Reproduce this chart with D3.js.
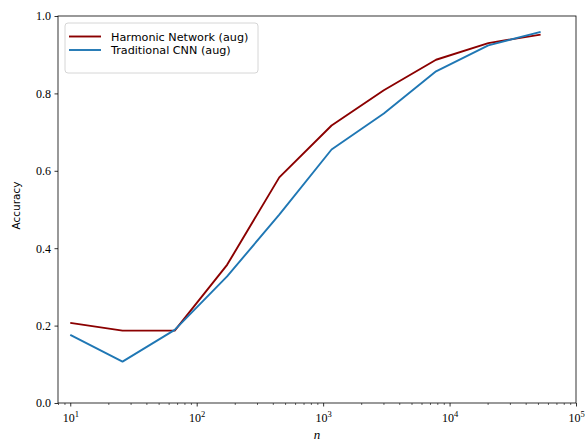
<!doctype html>
<html lang="en">
<head>
<meta charset="utf-8">
<script src="https://cdn.jsdelivr.net/npm/d3@7/dist/d3.min.js"></script>
<style>
  body { margin: 0; background: #fff; }
  .tick text { font-family: "Liberation Serif", serif; font-size: 12px; fill: #000; }
  .legend text { font-family: "DejaVu Sans", sans-serif; font-size: 11.2px; }
</style>
</head>
<body>
<div id="chart"></div>
<script>
// training set sizes (log spaced)
var nValues = [10, 25.9, 67, 174, 450, 1166, 3020, 7820, 20250, 52500];
var harmonic = [0.207, 0.187, 0.187, 0.357, 0.583, 0.717, 0.808, 0.887, 0.930, 0.952];
var traditional = [0.176, 0.107, 0.189, 0.327, 0.487, 0.655, 0.748, 0.857, 0.924, 0.959];
var seriesNames = ["Harmonic Network (aug)", "Traditional CNN (aug)"];
var seriesColors = ["#8b0000", "#1f77b4"];
var yTicks = [0, 0.2, 0.4, 0.6, 0.8, 1.0];
var xMajor = [10, 100, 1000, 10000, 100000];
var supers = {1: "1", 2: "2", 3: "3", 4: "4", 5: "5"};

var W = 587, H = 442;
var margin = {top: 16, right: 11, bottom: 39, left: 58};
var width = W - margin.left - margin.right,
    height = H - margin.top - margin.bottom;

var svg = d3.select("#chart").append("svg")
    .attr("width", W).attr("height", H)
  .append("g")
    .attr("transform", "translate(" + margin.left + "," + margin.top + ")");

var x = d3.scaleLog().domain([8, 100000]).range([0, width]);
var y = d3.scaleLinear().domain([0, 1]).range([height, 0]);

// minor ticks for log axis
var minor = [];
for (var e = 0; e < 5; e++) {
  for (var m = 2; m <= 9; m++) {
    var v = m * Math.pow(10, e);
    if (v >= 8 && v <= 100000) minor.push(v);
  }
}

var xAxisMinor = svg.append("g")
    .attr("transform", "translate(0," + height + ")")
    .call(d3.axisBottom(x).tickValues(minor).tickSize(2).tickFormat(""));
xAxisMinor.select(".domain").remove();
xAxisMinor.selectAll("line").attr("stroke-width", 0.6);

var xAxis = svg.append("g")
    .attr("transform", "translate(0," + height + ")")
    .call(d3.axisBottom(x).tickValues(xMajor).tickSize(3.5).tickPadding(4).tickFormat(""));
xAxis.select(".domain").remove();
xAxis.selectAll("line").attr("stroke-width", 0.8);
xAxis.selectAll(".tick").append("text")
    .attr("y", 19)
    .attr("text-anchor", "middle")
    .each(function(d) {
      var t = d3.select(this);
      var p = Math.round(Math.log10(d));
      t.append("tspan").text("10");
      t.append("tspan").attr("dy", -5).attr("font-size", "8.5px").text(supers[p]);
    });

var yAxis = svg.append("g")
    .call(d3.axisLeft(y).tickValues(yTicks).tickSize(3.5).tickPadding(3.5)
      .tickFormat(d3.format(".1f")));
yAxis.select(".domain").remove();
yAxis.selectAll("line").attr("stroke-width", 0.8);

// frame
svg.append("rect")
    .attr("width", width).attr("height", height)
    .attr("fill", "none").attr("stroke", "#000").attr("stroke-width", 0.8);

var line = d3.line()
    .x(function(d, i) { return x(nValues[i]); })
    .y(function(d) { return y(d); });

[harmonic, traditional].forEach(function(s, i) {
  svg.append("path")
      .datum(s)
      .attr("fill", "none")
      .attr("stroke", seriesColors[i])
      .attr("stroke-width", 1.9)
      .attr("stroke-linejoin", "round")
      .attr("d", line);
});

// legend
var legend = svg.append("g").attr("class", "legend").attr("transform", "translate(7,7)");
legend.append("rect")
    .attr("width", 193).attr("height", 50).attr("rx", 3)
    .attr("fill", "#fff").attr("fill-opacity", 0.8)
    .attr("stroke", "#ccc").attr("stroke-width", 0.8);
seriesNames.forEach(function(name, i) {
  var yy = 13.5 + i * 13.5;
  legend.append("line")
      .attr("x1", 4).attr("x2", 36).attr("y1", yy).attr("y2", yy)
      .attr("stroke", seriesColors[i]).attr("stroke-width", 1.9);
  legend.append("text")
      .attr("x", 46).attr("y", yy + 4)
      .text(name);
});

// axis labels
svg.append("text")
    .attr("x", width / 2).attr("y", height + 36)
    .attr("text-anchor", "middle")
    .attr("font-family", "Liberation Serif, serif")
    .attr("font-style", "italic")
    .attr("font-size", "13px")
    .text("n");

svg.append("text")
    .attr("transform", "translate(" + (-38) + "," + (height / 2 - 4) + ") rotate(-90)")
    .attr("text-anchor", "middle")
    .attr("font-family", "DejaVu Sans, sans-serif")
    .attr("font-size", "10.5px")
    .text("Accuracy");
</script>
</body>
</html>
